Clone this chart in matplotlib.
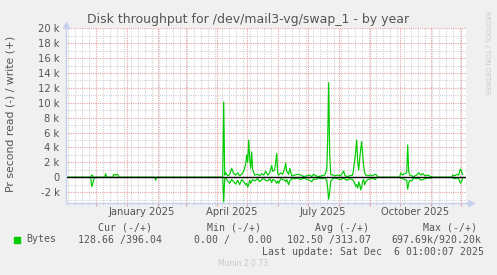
import pandas as pd
import matplotlib
matplotlib.use('Agg')
import matplotlib.pyplot as plt
import matplotlib.dates as mdates
import matplotlib.ticker as mticker

# time window of the yearly graph (400 days)
start = pd.Timestamp('2024-11-01 01:00')
end = pd.Timestamp('2025-12-06 01:00')

# samples: days after start, write (+) and read (-) in k bytes per second
day = [0, 25, 26, 27, 28, 29, 39, 40, 41, 47, 48, 50, 52, 53, 89, 90, 91,
       157, 158, 159, 160, 162, 164, 166, 168, 170, 172, 174, 176, 178, 180,
       181, 182, 183, 184, 185, 186, 187, 189, 192, 194, 196, 198, 200, 202,
       204, 206, 207, 209, 210, 211, 212, 213, 215, 217, 219, 220, 221, 223,
       224, 226, 229, 232, 235, 238, 244, 246, 248, 250, 253, 256, 259, 261,
       262, 263, 264, 265, 267, 269, 272, 275, 278, 279, 281, 284, 287, 289,
       290, 291, 292, 293, 294, 295, 296, 297, 298, 299, 300, 302, 305, 307,
       309, 311, 312, 334, 335, 337, 339, 341, 342, 343, 344, 346, 348, 351,
       353, 355, 357, 359, 362, 365, 368, 386, 387, 389, 391, 393, 394, 395,
       396, 397]
write_k = [0, 0, 0.3, 0.2, 0, 0, 0, 0.5, 0, 0, 0.4, 0.3, 0.4, 0, 0, 0, 0,
           0, 10.1, 0.3, 0.6, 0.2, 0.4, 1.2, 0.5, 0.3, 0.6, 0.2, 0.4, 0.8, 1.8,
           3.0, 2.0, 5.0, 2.6, 1.2, 3.4, 1.0, 0.3, 0.4, 0.2, 0.5, 0.3, 0.8, 0.3,
           0.6, 1.6, 0.8, 1.0, 2.0, 3.2, 0.5, 0.3, 0.6, 0.4, 1.2, 1.9, 0.8, 0.4,
           1.2, 0.2, 0.3, 0.4, 0.3, 0.1, 0.3, 0.1, 0.4, 0.2, 0.1, 0.2, 0.3, 1.0,
           5.0, 12.7, 3.0, 0.4, 0.3, 0.2, 0.3, 0.2, 0.85, 0.3, 0.1, 0.2, 0.3, 2.3,
           3.5, 5.0, 2.0, 1.0, 2.5, 3.8, 4.8, 3.0, 1.5, 0.6, 0.3, 0.2, 0.3, 0.2,
           0.4, 0.3, 0, 0, 0.6, 0.3, 0.5, 0.6, 4.35, 0.8, 0.3, 0.2, 0.1, 0.3,
           0.6, 0.3, 0.5, 0.2, 0.3, 0.1, 0, 0, 0.3, 0.2, 0.4, 0.3, 0.9, 1.1,
           0.7, 0.4]
read_k = [0, 0, 1.25, 0.9, 0.3, 0, 0, 0, 0, 0, 0, 0, 0, 0, 0, 0.4, 0,
          0, 3.3, 0.2, 0.1, 0.5, 0.8, 0.3, 0.6, 0.9, 0.4, 1.0, 0.3, 0.6, 1.0,
          0.8, 1.3, 1.0, 0.4, 0.8, 0.5, 0.3, 0.5, 0.2, 0.6, 0.3, 0.2, 0.4, 0.5,
          0.2, 0.7, 0.3, 0.4, 0.6, 0.8, 0.5, 0.8, 0.2, 0.3, 0.4, 0.6, 0.3, 1.0,
          0.5, 0.2, 0.2, 0.1, 0.3, 0.1, 0.4, 0.6, 0.2, 0.3, 0.1, 0.2, 0.1, 0.4,
          1.5, 2.95, 2.0, 0.5, 0.2, 0.1, 0.2, 0.3, 0.1, 0.2, 0.4, 0.2, 0.3, 0.8,
          1.2, 1.0, 1.45, 0.6, 1.0, 1.7, 1.2, 0.5, 0.3, 1.0, 0.6, 0.3, 0.2, 0.1,
          0.3, 0.1, 0, 0, 0.1, 0.2, 0.3, 0.4, 1.6, 0.8, 0.4, 0.5, 0.1, 0.2,
          0.1, 0.4, 0.3, 0.2, 0.1, 0.1, 0, 0, 0.1, 0.2, 0.1, 0.2, 0.6, 0.8,
          0.5, 0.2]

label_dates = ['2025-01-16', '2025-04-16', '2025-07-16', '2025-10-16']
label_text = ['January 2025', 'April 2025', 'July 2025', 'October 2025']

legend_head = ['Cur (-/+)', 'Min (-/+)', 'Avg (-/+)', 'Max (-/+)']
legend_vals = ['128.66 /396.04', '0.00 /   0.00', '102.50 /313.07', '697.69k/920.20k']

title = 'Disk throughput for /dev/mail3-vg/swap_1 - by year'
ylabel = 'Pr second read (-) / write (+)'
last_update = 'Last update: Sat Dec  6 01:00:07 2025'

W, H = 497, 275
GREEN = '#00cc00'
TXT = '#555555'
MAJOR = '#e8a0a0'
MINOR = '#d4d4d4'
AXIS = '#c8d0f0'

times = [start + pd.Timedelta(days=d) for d in day]
write = [v * 1000 for v in write_k]
read = [-v * 1000 for v in read_k]

fig = plt.figure(figsize=(W / 100, H / 100), dpi=100, facecolor='#f0f0f0')
ax = fig.add_axes([65.7 / W, 72 / H, 400 / W, 175 / H])
ax.set_facecolor('white')

ax.set_xlim(start, end)
ax.set_ylim(-3450, 20040)

# grid
ax.xaxis.set_major_locator(mdates.MonthLocator())
ax.xaxis.set_minor_locator(mdates.WeekdayLocator(byweekday=mdates.SU))
ax.xaxis.set_major_formatter(mticker.NullFormatter())
ax.yaxis.set_major_locator(mticker.MultipleLocator(2000))
ax.yaxis.set_minor_locator(mticker.MultipleLocator(1000))
ax.yaxis.set_major_formatter(mticker.FuncFormatter(
    lambda v, p: '0' if v == 0 else f'{v / 1000:g} k'))
ax.grid(which='minor', color=MINOR, linestyle=(0, (1, 1)), linewidth=0.8)
ax.grid(which='major', color=MAJOR, linestyle=(0, (1, 1)), linewidth=0.8)
ax.set_axisbelow(True)

ax.tick_params(axis='y', which='both', length=0, pad=4.5, labelsize=7.2,
               labelcolor=TXT)
ax.tick_params(axis='x', which='major', length=2.5, color=MAJOR)
ax.tick_params(axis='x', which='minor', length=1.5, color=MINOR)

for s in ['top', 'right']:
    ax.spines[s].set_visible(False)
for s in ['left', 'bottom']:
    ax.spines[s].set_color(AXIS)
    ax.spines[s].set_linewidth(1)
ax.plot([1.0, 1.012], [0, 0], color=AXIS, lw=1, transform=ax.transAxes, clip_on=False)
ax.plot([1.012], [0], marker='>', ms=4, color=AXIS, transform=ax.transAxes, clip_on=False)
ax.plot([0, 0], [1.0, 1.02], color=AXIS, lw=1, transform=ax.transAxes, clip_on=False)
ax.plot([0], [1.02], marker='^', ms=4, color=AXIS, transform=ax.transAxes, clip_on=False)

# data
ax.plot(times, write, color=GREEN, lw=0.85, solid_joinstyle='round')
ax.plot(times, read, color=GREEN, lw=0.85, solid_joinstyle='round')
ax.axhline(0, color='black', lw=1)

for d, t in zip(label_dates, label_text):
    ax.text(mdates.date2num(pd.Timestamp(d)), -0.053, t, ha='center', va='center',
            fontsize=7.2, color=TXT, transform=ax.get_xaxis_transform())

fig.text(248 / W, 1 - 19.5 / H, title, ha='center', va='center', fontsize=9, color=TXT)
fig.text(10.5 / W, 1 - 114 / H, ylabel, ha='center', va='center', rotation=90,
         fontsize=7.8, color=TXT)
fig.text(487 / W, 1 - 53 / H, 'RRDTOOL / TOBI OETIKER', ha='center', va='center',
         rotation=270, fontsize=4.7, color='#c8c8c8')

# legend block
mono = dict(family='DejaVu Sans Mono', fontsize=7.15, color=TXT, va='center')
head_x = [98.3, 206.7, 315, 422.7]
val_x = [77.7, 194.3, 287.3, 391.7]
for x, t in zip(head_x, legend_head):
    fig.text(x / W, 1 - 227.7 / H, t, ha='left', **mono)
for x, t in zip(val_x, legend_vals):
    fig.text(x / W, 1 - 239.5 / H, t, ha='left', **mono)
fig.text(26.7 / W, 1 - 239.5 / H, 'Bytes', ha='left', **mono)
fig.patches.append(plt.Rectangle((14 / W, 1 - 242.5 / H), 6 / W, 6 / H,
                                 color=GREEN, transform=fig.transFigure))
fig.text(261.7 / W, 1 - 251.7 / H, last_update, ha='left', **mono)
fig.text(243 / W, 1 - 264 / H, 'Munin 2.0.73', ha='center', va='center',
         fontsize=5.5, color='#c8c8c8')

fig.savefig('out.png', dpi=100, facecolor=fig.get_facecolor())
